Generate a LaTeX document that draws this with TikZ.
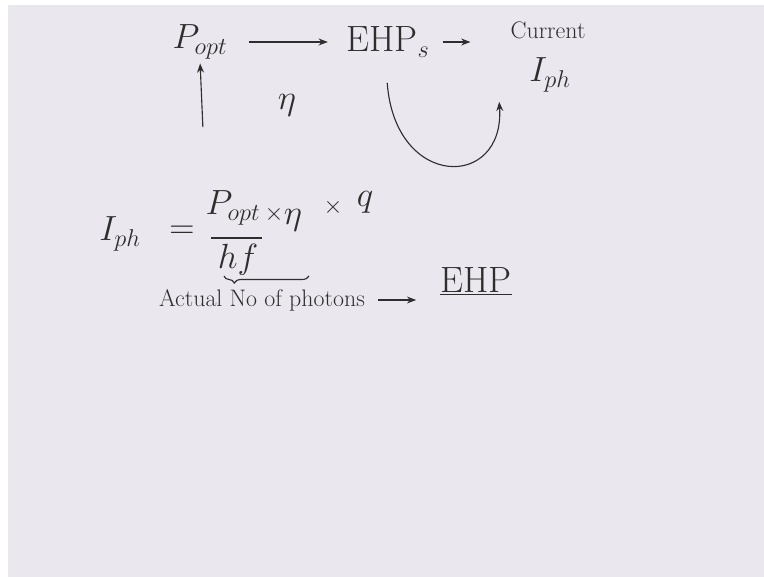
\documentclass[tikz,border=0pt]{standalone}
\usepackage{tikz}
\usetikzlibrary{arrows.meta, positioning, calc, decorations.pathreplacing}
\definecolor{cboard}{RGB}{234,232,238}
\definecolor{cink}{gray}{0.18}

\begin{document}
\begin{tikzpicture}[
    x=0.025cm, y=-0.025cm,
    >=Stealth,
    hand/.style={text=cink, inner sep=1pt, font=\fontsize{26}{30}\selectfont},
    small/.style={text=cink, inner sep=1pt, font=\fontsize{17}{20}\selectfont},
    flow/.style={->, line width=0.8pt, draw=cink, shorten >=2pt, shorten <=2pt},
    ink/.style={line width=0.8pt, draw=cink}
]
%% Board and margins
\useasboundingbox (0,0) rectangle (764,577);
\fill[white] (0,0) rectangle (764,577);
\fill[cboard] (8,5) rectangle (764,577);

%% Top line: optical power to electron-hole pairs to current
\node[hand] (popt) at (200,42) {$P_{opt}$};
\node[hand] (ehp) at (388,42) {EHP$_{s}$};
\node[small] (current) at (548,30) {Current};
\node[hand] (iph) at (550,75) {$I_{ph}$};
\node[hand, font=\fontsize{30}{34}\selectfont] (eta) at (287,105) {$\eta$};
\coordinate (pin) at (203,130);
\coordinate (tip) at (499,99);

\draw[flow, shorten <=14pt, shorten >=12pt] (popt.east) -- (ehp.west);
\draw[flow, shorten <=8pt] (ehp.east) -- ++(42,0);
\draw[flow] (pin) -- (popt.south);
\draw[flow] (387,80) .. controls (395,190) and (505,190) .. (tip);

%% Photocurrent expression
\node[hand] (iph2) at (120,234) {$I_{ph}$};
\node[hand] (equal) at (182,232) {$=$};
\node[hand] (num) at (233,208) {$P_{opt}$};
\node[hand] (den) at (238,260) {$hf$};
\draw[ink] (211,238) -- (262,238);
\node[small] (times1) at (274,214) {$\times$};
\node[hand, font=\fontsize{30}{34}\selectfont] (eta2) at (293,220) {$\eta$};
\node[small] (times2) at (333,207) {$\times$};
\node[hand] (charge) at (365,202) {$q$};
\draw[ink, decorate, decoration={brace, mirror, amplitude=5pt, aspect=0.12}]
    (224,276) -- (309,276);

%% Meaning of the fraction
\node[small] (actual) at (262,300) {Actual No of photons};
\node[hand] (ehp2) at (476,281) {\underline{EHP}};
\draw[flow, shorten <=8pt, shorten >=16pt] (actual.east) -- (actual.east -| ehp2.west);

\end{tikzpicture}
\end{document}
